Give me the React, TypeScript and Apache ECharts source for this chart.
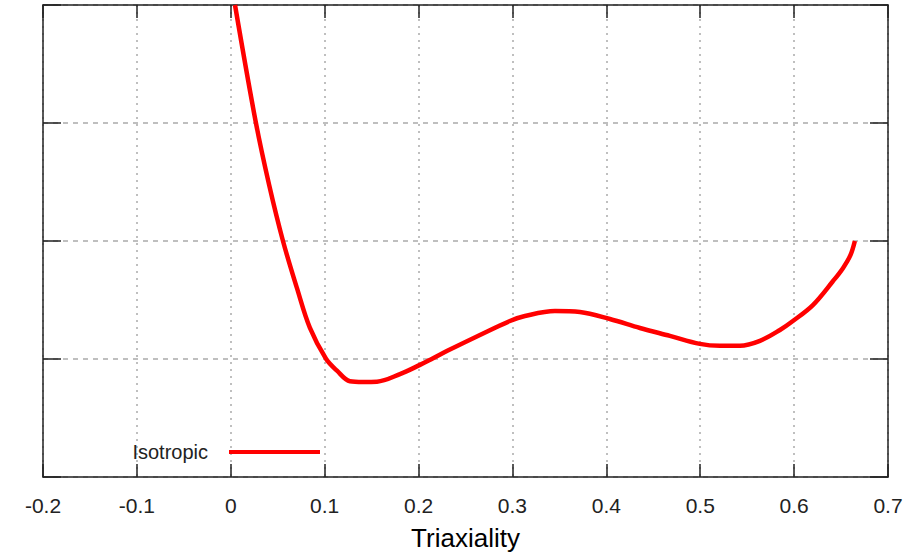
import React, { useEffect, useRef } from "react";
import * as echarts from "echarts";

const seriesName = "Isotropic";
const xTitle = "Triaxiality";

// triaxiality values (x) and the curve's values (y, arbitrary units 0..4 — y labels not shown)
const triax = [
  0.0045, 0.0268, 0.041, 0.0556, 0.0705, 0.0843, 0.1014, 0.1131, 0.1269, 0.1408,
  0.1557, 0.1802, 0.2015, 0.214, 0.2334, 0.2654, 0.2973, 0.3133, 0.3453, 0.3719,
  0.4038, 0.4358, 0.4677, 0.4997, 0.521, 0.5423, 0.5636, 0.5849, 0.5987, 0.62,
  0.6413, 0.652, 0.66, 0.6647,
];
const values = [
  4.0, 3.0, 2.47, 2.0, 1.6, 1.263, 1.002, 0.901, 0.812, 0.806,
  0.808, 0.872, 0.95, 1.0, 1.08, 1.204, 1.322, 1.364, 1.406, 1.398,
  1.339, 1.263, 1.196, 1.128, 1.112, 1.112, 1.154, 1.246, 1.322, 1.457,
  1.659, 1.77, 1.88, 2.0,
];

const xMin = -0.2;
const xMax = 0.7;
const xStep = 0.1;
const yMin = 0;
const yMax = 4;
const yStep = 1;

export default function App() {
  const ref = useRef<HTMLDivElement>(null);
  useEffect(() => {
    if (!ref.current) return;
    const chart = echarts.init(ref.current, undefined, { renderer: "svg" });
    const font = "'Liberation Sans', Arial, sans-serif";
    const axisLine = { show: true, onZero: false, lineStyle: { color: "#222", width: 1.5 } };
    const data = triax.map((x, i) => [x, values[i]]);
    chart.setOption({
      animation: false,
      backgroundColor: "#fff",
      grid: { left: 43, right: 20, top: 5, bottom: 76, containLabel: false },
      legend: {
        data: [seriesName],
        right: 588,
        top: 442,
        padding: 0,
        align: "right",
        icon: "rect",
        itemWidth: 91,
        itemHeight: 4,
        textStyle: { fontFamily: font, fontSize: 20, color: "#222", padding: [0, 16, 0, 0] },
      },
      xAxis: [
        {
          type: "value",
          min: xMin,
          max: xMax,
          interval: xStep,
          position: "bottom",
          name: xTitle,
          nameLocation: "middle",
          nameGap: 48,
          nameTextStyle: { fontFamily: font, fontSize: 26, color: "#000" },
          axisLine,
          axisTick: { show: true, inside: true, length: 13, lineStyle: { color: "#222", width: 1.5 } },
          axisLabel: {
            fontFamily: font,
            fontSize: 21,
            color: "#222",
            margin: 18,
            formatter: (v: number) => (Math.abs(v) < 1e-9 ? "0" : String(Math.round(v * 10) / 10)),
          },
          splitLine: { show: true, lineStyle: { color: "#aaa", type: [2, 5], width: 1.5 } },
        },
        {
          type: "value",
          min: xMin,
          max: xMax,
          interval: xStep,
          position: "top",
          axisLine,
          axisTick: { show: true, inside: true, length: 13, lineStyle: { color: "#222", width: 1.5 } },
          axisLabel: { show: false },
          splitLine: { show: false },
        },
      ],
      yAxis: [
        {
          type: "value",
          min: yMin,
          max: yMax,
          interval: yStep,
          position: "left",
          axisLine,
          axisTick: { show: true, inside: true, length: 18, lineStyle: { color: "#222", width: 1.5 } },
          axisLabel: { show: false },
          splitLine: { show: true, lineStyle: { color: "#aaa", type: [5, 5], width: 1.5 } },
        },
        {
          type: "value",
          min: yMin,
          max: yMax,
          interval: yStep,
          position: "right",
          axisLine,
          axisTick: { show: true, inside: true, length: 18, lineStyle: { color: "#222", width: 1.5 } },
          axisLabel: { show: false },
          splitLine: { show: false },
        },
      ],
      series: [
        {
          name: seriesName,
          type: "line",
          xAxisIndex: 0,
          yAxisIndex: 0,
          data,
          smooth: 0.35,
          showSymbol: false,
          lineStyle: { color: "#ff0000", width: 4.5 },
          itemStyle: { color: "#ff0000" },
          clip: true,
        },
      ],
    });
    return () => chart.dispose();
  }, []);
  return <div ref={ref} style={{ width: 908, height: 556, position: "absolute", left: 0, top: 0 }} />;
}
